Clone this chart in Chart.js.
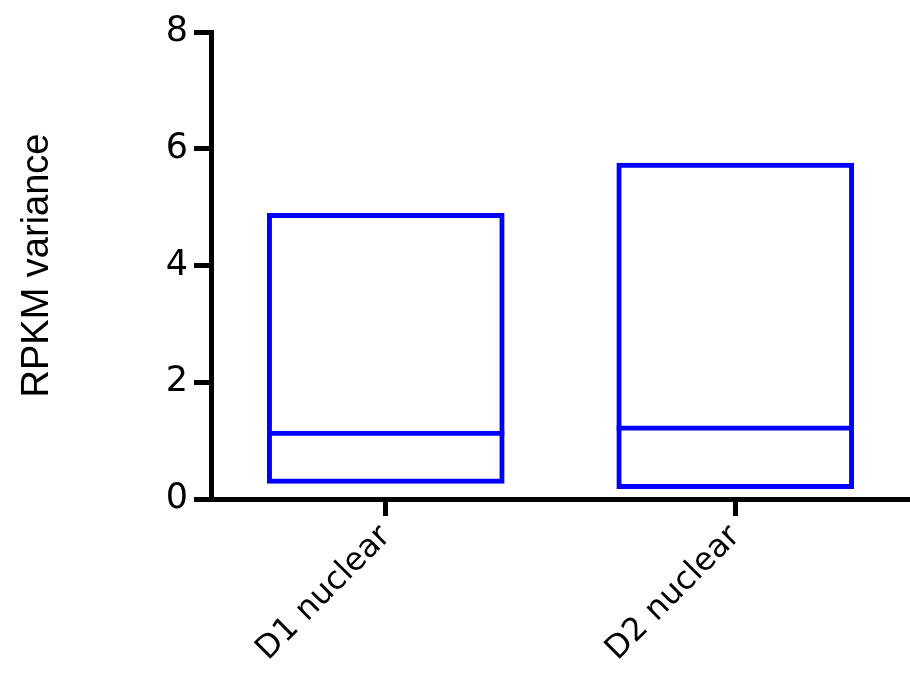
<!DOCTYPE html>
<html>
<head>
<meta charset="utf-8">
<script src="https://cdn.jsdelivr.net/npm/chart.js@4"></script>
<style>
  html, body { margin: 0; padding: 0; background: #fff; }
  canvas { display: block; }
</style>
</head>
<body>
<canvas id="boxChart" width="910" height="673"></canvas>
<script>
/* ===== データ ===== */
const categories = ['D1 nuclear', 'D2 nuclear'];
const boxLow = [0.26, 0.17];
const boxHigh = [4.90, 5.76];
const medians = [1.17, 1.26];
const yTicks = [0, 2, 4, 6, 8];

const BLUE = '#0000ff';

const ctx = document.getElementById('boxChart').getContext('2d');

new Chart(ctx, {
  type: 'bar',
  data: {
    labels: categories,
    datasets: [
      {
        label: 'box',
        data: categories.map((_, i) => [boxLow[i], boxHigh[i]]),
        backgroundColor: 'rgba(0,0,0,0)',
        borderColor: BLUE,
        borderWidth: 5,
        borderSkipped: false,
        barPercentage: 0.68,
        categoryPercentage: 1,
      },
      {
        label: 'median',
        data: categories.map((_, i) => [boxLow[i], medians[i]]),
        backgroundColor: 'rgba(0,0,0,0)',
        borderColor: BLUE,
        borderWidth: { top: 5, right: 0, bottom: 0, left: 0 },
        borderSkipped: false,
        barPercentage: 0.68,
        categoryPercentage: 1,
      },
    ],
  },
  options: {
    responsive: false,
    animation: false,
    layout: { padding: { top: 32, right: 0, left: 0, bottom: 0 } },
    plugins: {
      legend: { display: false },
      tooltip: { enabled: false },
    },
    scales: {
      x: {
        stacked: true,
        offset: true,
        grid: { display: true, drawOnChartArea: false, offset: false, tickLength: 17, tickWidth: 5, tickColor: '#000' },
        border: { display: true, width: 5, color: '#000' },
        ticks: { color: '#000', font: { family: 'DejaVu Sans', size: 32 }, minRotation: 45, maxRotation: 45, padding: 2 },
        afterFit: s => { s.height = 174; },
      },
      y: {
        stacked: false,
        min: 0,
        max: 8,
        afterBuildTicks: s => { s.ticks = yTicks.map(v => ({ value: v })); },
        grid: { display: true, drawOnChartArea: false, tickLength: 17, tickWidth: 5, tickColor: '#000' },
        border: { display: true, width: 5, color: '#000' },
        ticks: { color: '#000', font: { family: 'DejaVu Sans', size: 35 }, padding: 6 },
        title: {
          display: true,
          text: 'RPKM variance',
          color: '#000',
          font: { family: 'Liberation Sans', size: 38 },
          padding: { top: 15, bottom: 0 },
        },
        afterFit: s => { s.width = 211; },
      },
    },
  },
});
</script>
</body>
</html>
